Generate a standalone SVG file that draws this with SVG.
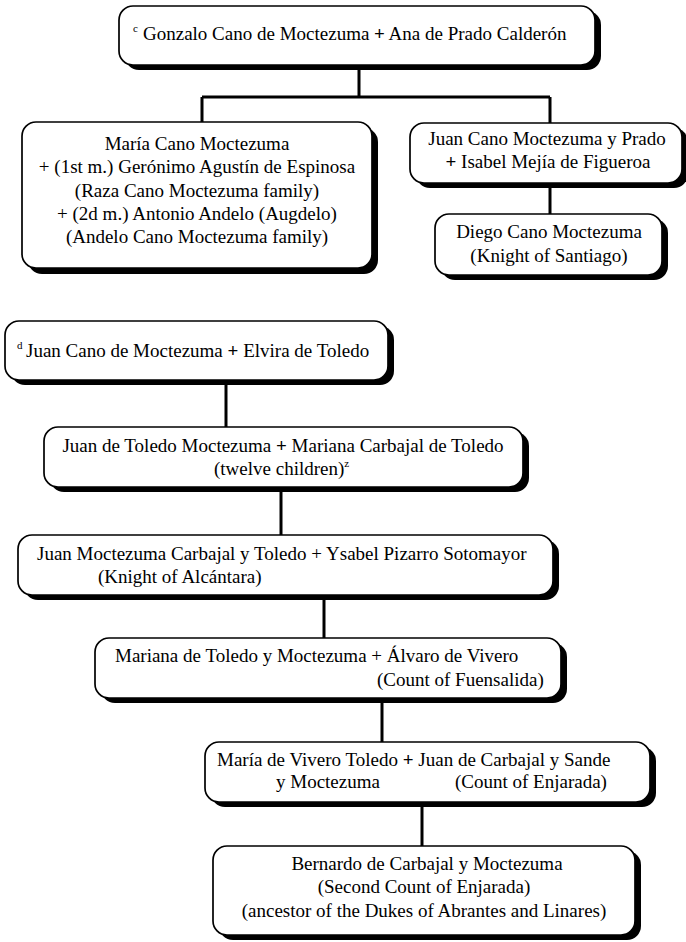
<svg xmlns="http://www.w3.org/2000/svg" width="686" height="942" viewBox="0 0 686 942">
  <style>
    .shadow { fill: #000; }
    .box { fill: #fff; stroke: #000; stroke-width: 1.7; }
    .t { font-family: "Liberation Serif", "Times New Roman", serif; font-size: 19px; fill: #000; }
    .c { text-anchor: middle; }
    .sup { font-size: 11px; }
    .b { font-weight: bold; }
    .link { fill: none; stroke: #000; stroke-width: 3; }
  </style>

  <g id="connectors">
    <path class="link" d="M359 70 V97 M202 97 H550 M202 97 V122 M550 97 V123"/>
    <path class="link" d="M550 188 V214"/>
    <path class="link" d="M226 385 V427"/>
    <path class="link" d="M281 492 V535"/>
    <path class="link" d="M324 600 V638"/>
    <path class="link" d="M382 703 V742"/>
    <path class="link" d="M422 807 V846"/>
  </g>

  <!-- Gonzalo Cano de Moctezuma -->
  <g id="gonzalo">
    <rect class="shadow" x="125" y="11" width="476" height="59" rx="14"/>
    <rect class="box" x="119" y="6" width="476" height="59" rx="14"/>
    <text class="t sup" x="133" y="32">c</text>
    <text class="t" x="143" y="40">Gonzalo Cano de Moctezuma <tspan class="b">+</tspan> Ana de Prado Calderón</text>
  </g>

  <!-- María Cano Moctezuma -->
  <g id="maria-cano">
    <rect class="shadow" x="28" y="128" width="350" height="146" rx="14"/>
    <rect class="box" x="22" y="122" width="350" height="146" rx="14"/>
    <text class="t c" x="197" y="150">María Cano Moctezuma</text>
    <text class="t c" x="197" y="173">+ (1st m.) Gerónimo Agustín de Espinosa</text>
    <text class="t c" x="197" y="197">(Raza Cano Moctezuma family)</text>
    <text class="t c" x="197" y="220">+ (2d m.) Antonio Andelo (Augdelo)</text>
    <text class="t c" x="197" y="243">(Andelo Cano Moctezuma family)</text>
  </g>

  <!-- Juan Cano Moctezuma y Prado -->
  <g id="juan-cano-prado">
    <rect class="shadow" x="416" y="128" width="272" height="60" rx="14"/>
    <rect class="box" x="410" y="123" width="272" height="60" rx="14"/>
    <text class="t c" x="547" y="145">Juan Cano Moctezuma y Prado</text>
    <text class="t c" x="548" y="168"><tspan class="b">+</tspan> Isabel Mejía de Figueroa</text>
  </g>

  <!-- Diego Cano Moctezuma -->
  <g id="diego">
    <rect class="shadow" x="441" y="219" width="227" height="61" rx="14"/>
    <rect class="box" x="435" y="214" width="227" height="61" rx="14"/>
    <text class="t c" x="549" y="238">Diego Cano Moctezuma</text>
    <text class="t c" x="549" y="262">(Knight of Santiago)</text>
  </g>

  <!-- Juan Cano de Moctezuma -->
  <g id="juan-cano-toledo">
    <rect class="shadow" x="11" y="326" width="383" height="59" rx="14"/>
    <rect class="box" x="5" y="321" width="383" height="59" rx="14"/>
    <text class="t sup" x="17" y="349">d</text>
    <text class="t" x="26" y="357">Juan Cano de Moctezuma <tspan class="b">+</tspan> Elvira de Toledo</text>
  </g>

  <!-- Juan de Toledo Moctezuma -->
  <g id="juan-toledo">
    <rect class="shadow" x="50" y="432" width="479" height="60" rx="14"/>
    <rect class="box" x="44" y="427" width="479" height="60" rx="14"/>
    <text class="t c" x="283" y="452">Juan de Toledo Moctezuma <tspan class="b">+</tspan> Mariana Carbajal de Toledo</text>
    <text class="t" x="214" y="475">(twelve children)<tspan class="sup" dy="-8">z</tspan></text>
  </g>

  <!-- Juan Moctezuma Carbajal y Toledo -->
  <g id="juan-moctezuma-carbajal">
    <rect class="shadow" x="24" y="540" width="535" height="60" rx="14"/>
    <rect class="box" x="18" y="535" width="535" height="60" rx="14"/>
    <text class="t" x="37" y="560">Juan Moctezuma Carbajal y Toledo + Ysabel Pizarro Sotomayor</text>
    <text class="t" x="98" y="583">(Knight of Alcántara)</text>
  </g>

  <!-- Mariana de Toledo y Moctezuma -->
  <g id="mariana">
    <rect class="shadow" x="101" y="643" width="466" height="60" rx="14"/>
    <rect class="box" x="95" y="638" width="466" height="60" rx="14"/>
    <text class="t" x="115" y="662">Mariana de Toledo y Moctezuma + Álvaro de Vivero</text>
    <text class="t" x="377" y="686">(Count of Fuensalida)</text>
  </g>

  <!-- María de Vivero Toledo -->
  <g id="maria-vivero">
    <rect class="shadow" x="211" y="747" width="445" height="60" rx="14"/>
    <rect class="box" x="205" y="742" width="445" height="60" rx="14"/>
    <text class="t" x="217" y="766">María de Vivero Toledo <tspan class="b">+</tspan> Juan de Carbajal y Sande</text>
    <text class="t" x="276" y="788">y Moctezuma</text>
    <text class="t" x="455" y="788">(Count of Enjarada)</text>
  </g>

  <!-- Bernardo de Carbajal y Moctezuma -->
  <g id="bernardo">
    <rect class="shadow" x="219" y="851" width="422" height="89" rx="14"/>
    <rect class="box" x="213" y="846" width="422" height="89" rx="14"/>
    <text class="t c" x="427" y="870">Bernardo de Carbajal y Moctezuma</text>
    <text class="t c" x="424" y="893">(Second Count of Enjarada)</text>
    <text class="t c" x="424" y="917">(ancestor of the Dukes of Abrantes and Linares)</text>
  </g>
</svg>
